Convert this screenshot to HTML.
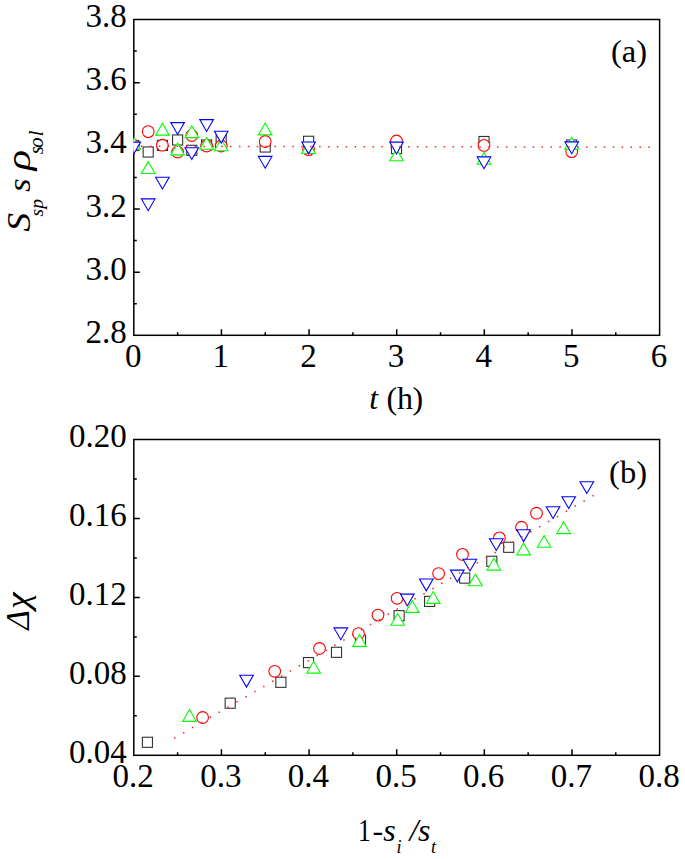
<!DOCTYPE html><html><head><meta charset="utf-8"><style>html,body{margin:0;padding:0;background:#fff;}svg{display:block;}text{font-family:"Liberation Serif",serif;fill:#000;}</style></head><body>
<svg width="685" height="859" viewBox="0 0 685 859">
<rect width="685" height="859" fill="#fff"/>
<defs><clipPath id="ct"><rect x="133.6" y="19.5" width="526" height="315.8"/></clipPath><clipPath id="cb"><rect x="133.6" y="439.5" width="526" height="315.8"/></clipPath></defs>
<rect x="133.8" y="19.5" width="525.8" height="315.8" fill="none" stroke="#000" stroke-width="1.5"/>
<path d="M177.62 335.3V332.3M221.43 335.3V329.3M265.25 335.3V332.3M309.07 335.3V329.3M352.88 335.3V332.3M396.7 335.3V329.3M440.52 335.3V332.3M484.33 335.3V329.3M528.15 335.3V332.3M571.97 335.3V329.3M615.78 335.3V332.3M133.8 303.72H136.8M133.8 272.14H139.8M133.8 240.56H136.8M133.8 208.98H139.8M133.8 177.4H136.8M133.8 145.82H139.8M133.8 114.24H136.8M133.8 82.66H139.8M133.8 51.08H136.8" stroke="#000" stroke-width="1.5" fill="none"/>
<rect x="133.8" y="439.5" width="525.8" height="315.8" fill="none" stroke="#000" stroke-width="1.5"/>
<path d="M177.62 755.3V752.3M221.43 755.3V749.3M265.25 755.3V752.3M309.07 755.3V749.3M352.88 755.3V752.3M396.7 755.3V749.3M440.52 755.3V752.3M484.33 755.3V749.3M528.15 755.3V752.3M571.97 755.3V749.3M615.78 755.3V752.3M133.8 715.82H136.8M133.8 676.35H139.8M133.8 636.88H136.8M133.8 597.4H139.8M133.8 557.92H136.8M133.8 518.45H139.8M133.8 478.98H136.8" stroke="#000" stroke-width="1.5" fill="none"/>
<g font-size="33">
<text x="133.2" y="366.6" text-anchor="middle">0</text>
<text x="220.83" y="366.6" text-anchor="middle">1</text>
<text x="308.47" y="366.6" text-anchor="middle">2</text>
<text x="396.1" y="366.6" text-anchor="middle">3</text>
<text x="483.73" y="366.6" text-anchor="middle">4</text>
<text x="571.37" y="366.6" text-anchor="middle">5</text>
<text x="659" y="366.6" text-anchor="middle">6</text>
<text x="126.8" y="342.9" text-anchor="end">2.8</text>
<text x="126.8" y="279.74" text-anchor="end">3.0</text>
<text x="126.8" y="216.58" text-anchor="end">3.2</text>
<text x="126.8" y="153.42" text-anchor="end">3.4</text>
<text x="126.8" y="90.26" text-anchor="end">3.6</text>
<text x="126.8" y="27.1" text-anchor="end">3.8</text>
<text x="133.2" y="786.6" text-anchor="middle">0.2</text>
<text x="220.83" y="786.6" text-anchor="middle">0.3</text>
<text x="308.47" y="786.6" text-anchor="middle">0.4</text>
<text x="396.1" y="786.6" text-anchor="middle">0.5</text>
<text x="483.73" y="786.6" text-anchor="middle">0.6</text>
<text x="571.37" y="786.6" text-anchor="middle">0.7</text>
<text x="659" y="786.6" text-anchor="middle">0.8</text>
<text x="126.8" y="762.9" text-anchor="end">0.04</text>
<text x="126.8" y="683.95" text-anchor="end">0.08</text>
<text x="126.8" y="605" text-anchor="end">0.12</text>
<text x="126.8" y="526.05" text-anchor="end">0.16</text>
<text x="126.8" y="447.1" text-anchor="end">0.20</text>
</g>
<g clip-path="url(#ct)">
<g fill="#fff" stroke="#333" stroke-width="1.1"><rect x="128.75" y="140.45" width="10.1" height="10.1"/><rect x="143.15" y="146.95" width="10.1" height="10.1"/><rect x="157.35" y="140.35" width="10.1" height="10.1"/><rect x="172.55" y="134.95" width="10.1" height="10.1"/><rect x="186.75" y="145.25" width="10.1" height="10.1"/><rect x="201.55" y="139.95" width="10.1" height="10.1"/><rect x="216.15" y="134.95" width="10.1" height="10.1"/><rect x="260.15" y="141.95" width="10.1" height="10.1"/><rect x="303.55" y="136.25" width="10.1" height="10.1"/><rect x="391.45" y="143.55" width="10.1" height="10.1"/><rect x="478.95" y="136.45" width="10.1" height="10.1"/><rect x="566.65" y="139.95" width="10.1" height="10.1"/></g>
<g fill="#fff" stroke="#f00" stroke-width="1.1"><circle cx="133.8" cy="145.3" r="5.85"/><circle cx="148.2" cy="131.6" r="5.85"/><circle cx="162.4" cy="145.2" r="5.85"/><circle cx="177.6" cy="152" r="5.85"/><circle cx="191.8" cy="135.5" r="5.85"/><circle cx="206.6" cy="146" r="5.85"/><circle cx="221.2" cy="146" r="5.85"/><circle cx="265.2" cy="141.5" r="5.85"/><circle cx="308.6" cy="149.6" r="5.85"/><circle cx="396.5" cy="141" r="5.85"/><circle cx="484" cy="145.4" r="5.85"/><circle cx="571.7" cy="151.6" r="5.85"/></g>
<g fill="#fff" stroke="#0f0" stroke-width="1.1"><path d="M133.8 137.3L140.6 149.1H127Z"/><path d="M148.2 161.7L155 173.5H141.4Z"/><path d="M162.4 123.35L169.2 135.15H155.6Z"/><path d="M177.6 143.1L184.4 154.9H170.8Z"/><path d="M191.8 125.8L198.6 137.6H185Z"/><path d="M206.6 137.5L213.4 149.3H199.8Z"/><path d="M221.2 139L228 150.8H214.4Z"/><path d="M265.2 123.1L272 134.9H258.4Z"/><path d="M308.6 141.7L315.4 153.5H301.8Z"/><path d="M396.5 148.9L403.3 160.7H389.7Z"/><path d="M484 152.4L490.8 164.2H477.2Z"/><path d="M571.7 137.3L578.5 149.1H564.9Z"/></g>
<g fill="#fff" stroke="#00f" stroke-width="1.1"><path d="M127 142.1H140.6L133.8 153.9Z"/><path d="M141.4 198.9H155L148.2 210.7Z"/><path d="M155.6 177.2H169.2L162.4 189Z"/><path d="M170.8 122.6H184.4L177.6 134.4Z"/><path d="M185 147.7H198.6L191.8 159.5Z"/><path d="M199.8 119.6H213.4L206.6 131.4Z"/><path d="M214.4 131.3H228L221.2 143.1Z"/><path d="M258.4 156.4H272L265.2 168.2Z"/><path d="M301.8 142H315.4L308.6 153.8Z"/><path d="M389.7 142.1H403.3L396.5 153.9Z"/><path d="M477.2 156.9H490.8L484 168.7Z"/><path d="M564.9 141.9H578.5L571.7 153.7Z"/></g>
<path d="M141.05 146.31h1.5M149.95 146.33h1.5M158.85 146.34h1.5M167.75 146.36h1.5M176.65 146.37h1.5M185.55 146.39h1.5M194.45 146.4h1.5M203.35 146.42h1.5M212.25 146.43h1.5M221.15 146.45h1.5M230.05 146.46h1.5M238.95 146.48h1.5M247.85 146.49h1.5M256.75 146.51h1.5M265.65 146.53h1.5M274.55 146.54h1.5M283.45 146.56h1.5M292.35 146.57h1.5M301.25 146.59h1.5M310.15 146.6h1.5M319.05 146.62h1.5M327.95 146.63h1.5M336.85 146.65h1.5M345.75 146.66h1.5M354.65 146.68h1.5M363.55 146.69h1.5M372.45 146.71h1.5M381.35 146.72h1.5M390.25 146.74h1.5M399.15 146.75h1.5M408.05 146.77h1.5M416.95 146.78h1.5M425.85 146.8h1.5M434.75 146.81h1.5M443.65 146.83h1.5M452.55 146.84h1.5M461.45 146.86h1.5M470.35 146.87h1.5M479.25 146.89h1.5M488.15 146.9h1.5M497.05 146.92h1.5M505.95 146.93h1.5M514.85 146.95h1.5M523.75 146.96h1.5M532.65 146.98h1.5M541.55 146.99h1.5M550.45 147.01h1.5M559.35 147.02h1.5M568.25 147.04h1.5M577.15 147.05h1.5M586.05 147.07h1.5M594.95 147.08h1.5M603.85 147.1h1.5M612.75 147.12h1.5M621.65 147.13h1.5M630.55 147.15h1.5M639.45 147.16h1.5M648.35 147.18h1.5" stroke="#f22" stroke-width="1.5" fill="none"/>
</g>
<g clip-path="url(#cb)">
<g fill="#fff" stroke="#333" stroke-width="1.1"><rect x="142.35" y="737.25" width="10.1" height="10.1"/><rect x="225.15" y="698.15" width="10.1" height="10.1"/><rect x="275.85" y="677.25" width="10.1" height="10.1"/><rect x="303.45" y="657.55" width="10.1" height="10.1"/><rect x="331.45" y="647.25" width="10.1" height="10.1"/><rect x="355.45" y="635.15" width="10.1" height="10.1"/><rect x="394.05" y="610.65" width="10.1" height="10.1"/><rect x="424.55" y="596.35" width="10.1" height="10.1"/><rect x="459.65" y="573.05" width="10.1" height="10.1"/><rect x="486.75" y="556.25" width="10.1" height="10.1"/><rect x="503.65" y="542.25" width="10.1" height="10.1"/></g>
<g fill="#fff" stroke="#f00" stroke-width="1.1"><circle cx="202.6" cy="717.5" r="5.85"/><circle cx="274.7" cy="671.3" r="5.85"/><circle cx="319.5" cy="648.5" r="5.85"/><circle cx="358.5" cy="633.6" r="5.85"/><circle cx="378" cy="615.1" r="5.85"/><circle cx="397.1" cy="598.3" r="5.85"/><circle cx="438.6" cy="573.6" r="5.85"/><circle cx="462.5" cy="554.4" r="5.85"/><circle cx="499.4" cy="537.9" r="5.85"/><circle cx="521.5" cy="527.2" r="5.85"/><circle cx="536.5" cy="513.2" r="5.85"/></g>
<g fill="#fff" stroke="#0f0" stroke-width="1.1"><path d="M189.5 709.6L196.3 721.4H182.7Z"/><path d="M313.7 661.3L320.5 673.1H306.9Z"/><path d="M359.5 634.6L366.3 646.4H352.7Z"/><path d="M397.7 613.5L404.5 625.3H390.9Z"/><path d="M412.3 600.6L419.1 612.4H405.5Z"/><path d="M433.2 591.6L440 603.4H426.4Z"/><path d="M475.4 574L482.2 585.8H468.6Z"/><path d="M493.9 558.3L500.7 570.1H487.1Z"/><path d="M523.6 543.1L530.4 554.9H516.8Z"/><path d="M544.1 535.5L550.9 547.3H537.3Z"/><path d="M563.6 521.8L570.4 533.6H556.8Z"/></g>
<g fill="#fff" stroke="#00f" stroke-width="1.1"><path d="M239.7 675.3H253.3L246.5 687.1Z"/><path d="M334 627.9H347.6L340.8 639.7Z"/><path d="M400.5 594.1H414.1L407.3 605.9Z"/><path d="M419.5 579H433.1L426.3 590.8Z"/><path d="M450.5 570.1H464.1L457.3 581.9Z"/><path d="M463.1 559.2H476.7L469.9 571Z"/><path d="M489.5 538.7H503.1L496.3 550.5Z"/><path d="M516.8 529.8H530.4L523.6 541.6Z"/><path d="M546.2 506.7H559.8L553 518.5Z"/><path d="M561.9 496.7H575.5L568.7 508.5Z"/><path d="M580 481.7H593.6L586.8 493.5Z"/></g>
<path d="M174.05 737.9h1.5M182.95 732.75h1.5M191.85 727.6h1.5M200.75 722.45h1.5M209.65 717.3h1.5M218.55 712.14h1.5M227.45 706.99h1.5M236.35 701.84h1.5M245.25 696.69h1.5M254.15 691.54h1.5M263.05 686.39h1.5M271.95 681.24h1.5M280.85 676.09h1.5M289.75 670.94h1.5M298.65 665.79h1.5M307.55 660.63h1.5M316.45 655.48h1.5M325.35 650.33h1.5M334.25 645.18h1.5M343.15 640.03h1.5M352.05 634.88h1.5M360.95 629.73h1.5M369.85 624.58h1.5M378.75 619.43h1.5M387.65 614.28h1.5M396.55 609.12h1.5M405.45 603.97h1.5M414.35 598.82h1.5M423.25 593.67h1.5M432.15 588.52h1.5M441.05 583.37h1.5M449.95 578.22h1.5M458.85 573.07h1.5M467.75 567.92h1.5M476.65 562.77h1.5M485.55 557.62h1.5M494.45 552.46h1.5M503.35 547.31h1.5M512.25 542.16h1.5M521.15 537.01h1.5M530.05 531.86h1.5M538.95 526.71h1.5M547.85 521.56h1.5M556.75 516.41h1.5M565.65 511.26h1.5M574.55 506.11h1.5M583.45 500.95h1.5M592.35 495.8h1.5" stroke="#f22" stroke-width="1.5" fill="none"/>
</g>
<text x="647" y="62" text-anchor="end" font-size="32.5">(a)</text>
<text x="647" y="483" text-anchor="end" font-size="32.5">(b)</text>
<text x="369.13" y="408.8" font-size="32" font-style="italic">t</text>
<text x="386.38" y="408.8" font-size="32">(</text>
<text x="396.9" y="408.8" font-size="32">h</text>
<text x="412.41" y="408.8" font-size="32">)</text>
<text transform="translate(358.09,840.7) scale(0.8,1)" font-size="32">1</text>
<text x="372.61" y="840.7" font-size="32">-</text>
<text x="383.21" y="840.7" font-size="32" font-style="italic">s</text>
<text x="396.47" y="852.9" font-size="18" font-style="italic">i</text>
<text x="409.52" y="840.7" font-size="32" font-style="italic">/</text>
<text x="417.91" y="840.7" font-size="32" font-style="italic">s</text>
<text x="431.07" y="852.9" font-size="18" font-style="italic">t</text>
<g transform="translate(30.4,0) rotate(-90)">
<text transform="translate(-231.7,0) scale(1.1,1)" font-size="34.5" font-style="italic">S</text>
<text x="-216.42" y="12.3" font-size="19.5" font-style="italic">s</text>
<text x="-208.76" y="12.3" font-size="19.5" font-style="italic">p</text>
<text transform="translate(-191.91,0) scale(1.08,1)" font-size="32.5" font-style="italic">s</text>
<text transform="translate(-170.4,0) scale(1.3,1)" font-size="33" font-style="italic">ρ</text>
<text x="-154.35" y="12.3" font-size="20.5" font-style="italic">s</text>
<text x="-147.82" y="12.3" font-size="20.5" font-style="italic">o</text>
<text x="-136.37" y="12.3" font-size="20.5" font-style="italic">l</text>
</g>
<g transform="translate(28.6,0) rotate(-90)">
<text x="-629.81" y="0" font-size="33.5" font-style="italic">Δ</text>
<text transform="translate(-609.04,0) scale(1.12,1)" font-size="33.5" font-style="italic">χ</text>
</g>
</svg></body></html>
